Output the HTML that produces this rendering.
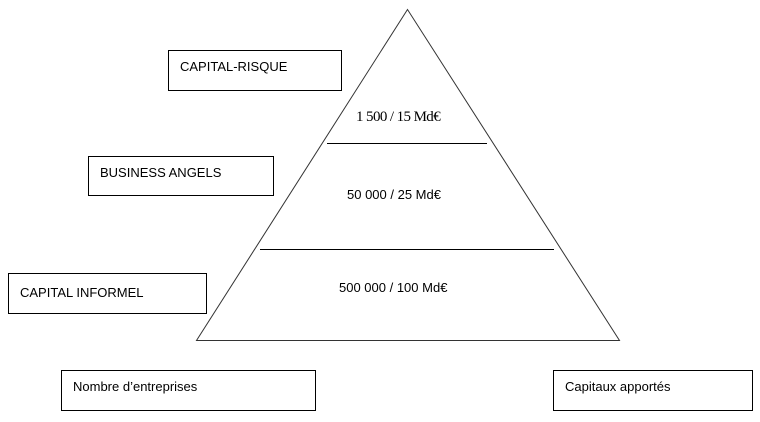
<!DOCTYPE html>
<html><head><style>
body{margin:0;background:#fff;width:760px;height:417px;overflow:hidden}
svg text{font-family:"Liberation Sans",sans-serif;font-size:13px;fill:#000}
</style></head><body>
<svg width="760" height="417" xmlns="http://www.w3.org/2000/svg">
<g fill="none" stroke="#000" stroke-width="1">
<polygon points="407.5,9.5 196.5,340.5 619.5,340.5" stroke="#333"/>
<line x1="327" y1="143.5" x2="487" y2="143.5"/>
<line x1="260" y1="249.5" x2="554" y2="249.5"/>
<rect x="168.5" y="50.5" width="173" height="40"/>
<rect x="88.5" y="156.5" width="185" height="39"/>
<rect x="8.5" y="273.5" width="198" height="40"/>
<rect x="61.5" y="370.5" width="254" height="40"/>
<rect x="553.5" y="370.5" width="199" height="40"/>
</g>
<text x="180" y="71">CAPITAL-RISQUE</text>
<text x="100" y="177">BUSINESS ANGELS</text>
<text x="20" y="297">CAPITAL INFORMEL</text>
<text x="73" y="391">Nombre d’entreprises</text>
<text x="565" y="391">Capitaux apportés</text>
<text x="356" y="121" style="font-family:'Liberation Serif',serif;font-size:15px;letter-spacing:-0.6px">1 500 / 15 Md€</text>
<text x="347" y="199">50 000 / 25 Md€</text>
<text x="339" y="292">500 000 / 100 Md€</text>
</svg>
</body></html>
